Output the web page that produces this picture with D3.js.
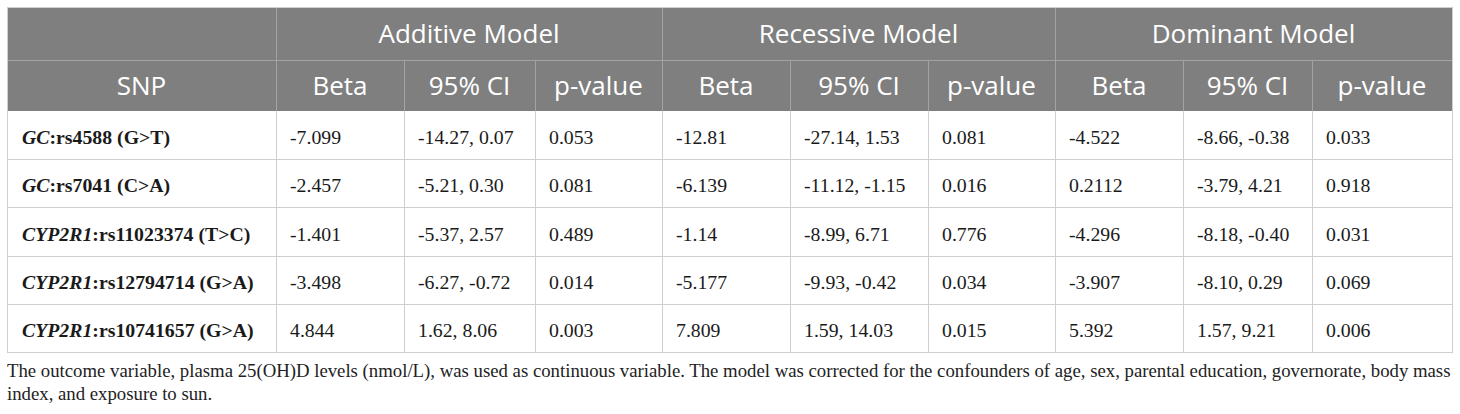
<!DOCTYPE html>
<html>
<head>
<meta charset="utf-8">
<script src="https://cdn.jsdelivr.net/npm/d3@7"></script>
<style>
  body { margin: 0; background: #fff; }
  svg { display: block; }
</style>
</head>
<body>
<svg id="chart" width="1460" height="414"></svg>
<script>
// Table content
const models = ["Additive Model", "Recessive Model", "Dominant Model"];
const subHeads = ["Beta", "95% CI", "p-value"];
const genes = ["GC", "GC", "CYP2R1", "CYP2R1", "CYP2R1"];
const snpIds = ["rs4588 (G>T)", "rs7041 (C>A)", "rs11023374 (T>C)", "rs12794714 (G>A)", "rs10741657 (G>A)"];
const additive = [
    ["-7.099", "-14.27, 0.07", "0.053"],
    ["-2.457", "-5.21, 0.30", "0.081"],
    ["-1.401", "-5.37, 2.57", "0.489"],
    ["-3.498", "-6.27, -0.72", "0.014"],
    ["4.844", "1.62, 8.06", "0.003"]
];
const recessive = [
    ["-12.81", "-27.14, 1.53", "0.081"],
    ["-6.139", "-11.12, -1.15", "0.016"],
    ["-1.14", "-8.99, 6.71", "0.776"],
    ["-5.177", "-9.93, -0.42", "0.034"],
    ["7.809", "1.59, 14.03", "0.015"]
];
const dominant = [
    ["-4.522", "-8.66, -0.38", "0.033"],
    ["0.2112", "-3.79, 4.21", "0.918"],
    ["-4.296", "-8.18, -0.40", "0.031"],
    ["-3.907", "-8.10, 0.29", "0.069"],
    ["5.392", "1.57, 9.21", "0.006"]
];
const footnote = [
    "The outcome variable, plasma 25(OH)D levels (nmol/L), was used as continuous variable. The model was corrected for the confounders of age, sex, parental education, governorate, body mass",
    "index, and exposure to sun."
];

// Layout
const svg = d3.select("#chart");
const colEdges = [7, 276, 404, 535, 662, 790, 928, 1055, 1183, 1312, 1452];
const tTop = 7, head1 = 60, head2 = 111, tBottom = 352;
const headFill = "#7f7f7f", headLine = "#a3a3a3", bodyLine = "#cfcfcf";
const sans = "'Open Sans', 'Noto Sans', sans-serif";
const serif = "'Liberation Serif', 'Times New Roman', serif";

const y = d3.scaleBand()
    .domain(d3.range(genes.length))
    .range([head2, tBottom]);

// header background
svg.append("rect")
    .attr("x", colEdges[0]).attr("y", tTop)
    .attr("width", colEdges[10] - colEdges[0]).attr("height", head2 - tTop)
    .attr("fill", headFill);

// header lines
const hl = svg.append("g").attr("stroke", headLine).attr("stroke-width", 1);
hl.append("line").attr("x1", colEdges[0]).attr("x2", colEdges[10]).attr("y1", head1 + 0.5).attr("y2", head1 + 0.5);
colEdges.slice(1, 10).forEach((x, i) => {
    const groupEdge = (i % 3 === 0);
    hl.append("line")
        .attr("x1", x + 0.5).attr("x2", x + 0.5)
        .attr("y1", groupEdge ? tTop : head1).attr("y2", head2);
});

// header text
const ht = svg.append("g")
    .attr("fill", "#fff")
    .style("font-family", sans)
    .style("font-size", "26px")
    .attr("text-anchor", "middle");

models.forEach((m, i) => {
    ht.append("text")
        .attr("x", (colEdges[1 + i * 3] + colEdges[4 + i * 3]) / 2)
        .attr("y", (tTop + head1) / 2 + 9.5)
        .text(m);
});
ht.append("text")
    .attr("x", (colEdges[0] + colEdges[1]) / 2)
    .attr("y", (head1 + head2) / 2 + 9.5)
    .text("SNP");
models.forEach((m, g) => {
    subHeads.forEach((s, j) => {
        const c = 1 + g * 3 + j;
        ht.append("text")
            .attr("x", (colEdges[c] + colEdges[c + 1]) / 2)
            .attr("y", (head1 + head2) / 2 + 9.5)
            .text(s);
    });
});

// body grid
const bl = svg.append("g").attr("stroke", bodyLine).attr("stroke-width", 1).attr("fill", "none");
y.domain().forEach(i => {
    bl.append("line")
        .attr("x1", colEdges[0]).attr("x2", colEdges[10])
        .attr("y1", Math.round(y(i) + y.bandwidth()) + 0.5)
        .attr("y2", Math.round(y(i) + y.bandwidth()) + 0.5);
});
colEdges.forEach(x => {
    bl.append("line")
        .attr("x1", x + 0.5).attr("x2", x + 0.5)
        .attr("y1", head2).attr("y2", tBottom);
});
// outer border
bl.append("rect")
    .attr("x", colEdges[0] + 0.5).attr("y", tTop + 0.5)
    .attr("width", colEdges[10] - colEdges[0]).attr("height", tBottom - tTop)
    .attr("stroke", bodyLine);

// body text
const rows = genes.map((g, i) => ({
    gene: g,
    snp: snpIds[i],
    cells: additive[i].concat(recessive[i], dominant[i])
}));

const bt = svg.append("g")
    .attr("fill", "#1a1a1a")
    .style("font-family", serif)
    .style("font-size", "19.8px");

const row = bt.selectAll("g.row")
    .data(rows)
    .join("g")
    .attr("class", "row")
    .attr("transform", (d, i) => `translate(0,${y(i) + y.bandwidth() / 2 + 9})`);

const lab = row.append("text")
    .attr("x", colEdges[0] + 15)
    .style("font-weight", "bold");
lab.append("tspan").style("font-style", "italic").text(d => d.gene);
lab.append("tspan").text(d => ":" + d.snp);

row.selectAll("text.cell")
    .data(d => d.cells)
    .join("text")
    .attr("class", "cell")
    .attr("x", (d, j) => colEdges[j + 1] + 14)
    .text(d => d);

// footnote
svg.append("g")
    .attr("fill", "#222")
    .style("font-family", serif)
    .style("font-size", "18.75px")
    .selectAll("text")
    .data(footnote)
    .join("text")
    .attr("x", colEdges[0])
    .attr("y", (d, i) => 377 + i * 23)
    .text(d => d);
</script>
</body>
</html>
